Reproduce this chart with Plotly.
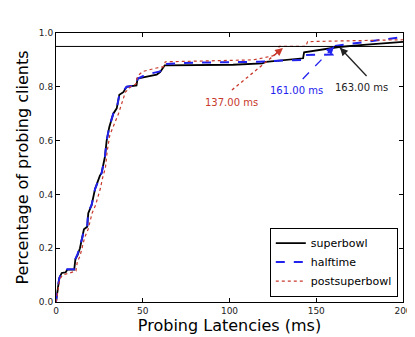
import plotly.graph_objects as go

# CDF of probing latencies
superbowl_ms = [0, 0.8, 1.9, 3.3, 5.5, 6.5, 10.5, 11.2, 12.5, 13.8, 15.2, 16.1, 18.0, 18.6, 20.5,
                22.5, 25.3, 26.3, 28.2, 29.2, 30.7, 33.0, 35.0, 36.5, 38.8, 40.7, 46.4, 47.0, 50.3,
                58.0, 60.0, 62.7, 102, 119, 121, 142.4, 143, 150, 159.7, 163, 179, 200]
superbowl_cdf = [0, 0.046, 0.089, 0.108, 0.110, 0.12, 0.12, 0.16, 0.175, 0.20, 0.24, 0.27, 0.28, 0.33,
                 0.36, 0.42, 0.47, 0.48, 0.54, 0.60, 0.65, 0.70, 0.72, 0.77, 0.78, 0.80, 0.805, 0.83,
                 0.835, 0.845, 0.855, 0.88, 0.882, 0.887, 0.893, 0.906, 0.928, 0.935, 0.943, 0.948,
                 0.957, 0.967]

halftime_ms = [0, 0.8, 2.0, 3.5, 5.5, 6.5, 10.5, 11.2, 12.5, 13.8, 15.2, 16.1, 18.0, 18.5, 20.5,
               22.5, 25.3, 26.3, 28.2, 29.2, 30.7, 33.0, 35.0, 36.5, 38.8, 40.7, 46.4, 47.0, 50.3,
               55, 60.0, 62.7, 80, 117, 131, 142.4, 143, 159.7, 160.5, 170, 185, 200]
halftime_cdf = [0, 0.05, 0.09, 0.11, 0.112, 0.122, 0.122, 0.16, 0.18, 0.205, 0.24, 0.27, 0.28, 0.335,
                0.36, 0.42, 0.47, 0.48, 0.54, 0.60, 0.65, 0.70, 0.72, 0.77, 0.785, 0.80, 0.805, 0.83,
                0.84, 0.85, 0.857, 0.885, 0.89, 0.893, 0.898, 0.9, 0.918, 0.92, 0.952, 0.96, 0.975, 0.985]

post_ms = [0, 1, 2.2, 3.8, 6, 8, 11.5, 12.3, 13.8, 15.0, 16.5, 18.5, 19.3, 20.8, 22.8, 25.5, 26.8,
           28.5, 29.5, 31, 33.5, 36, 38, 40, 43, 46, 47, 50, 58, 62, 63, 100, 113.6, 125, 127, 128.7,
           144, 145, 170, 200]
post_cdf = [0, 0.04, 0.085, 0.1, 0.105, 0.11, 0.115, 0.15, 0.17, 0.2, 0.24, 0.27, 0.29, 0.33, 0.36,
            0.42, 0.46, 0.5, 0.56, 0.62, 0.66, 0.7, 0.74, 0.78, 0.8, 0.81, 0.84, 0.857, 0.87, 0.875,
            0.893, 0.897, 0.9, 0.915, 0.925, 0.95, 0.95, 0.968, 0.97, 0.975]

RED = "#c8392b"
BLUE = "#2222ee"
FONT = "DejaVu Sans"

fig = go.Figure()
fig.add_trace(go.Scatter(x=superbowl_ms, y=superbowl_cdf, mode="lines", name="superbowl",
                         line=dict(color="black", width=1.8)))
fig.add_trace(go.Scatter(x=halftime_ms, y=halftime_cdf, mode="lines", name="halftime",
                         line=dict(color=BLUE, width=2, dash="dash")))
fig.add_trace(go.Scatter(x=post_ms, y=post_cdf, mode="lines", name="postsuperbowl",
                         line=dict(color=RED, width=1.2, dash="dot")))

# 95th percentile line
fig.add_shape(type="line", xref="paper", x0=0, x1=1, yref="y", y0=0.95, y1=0.95,
              line=dict(color="black", width=1))

# arrows: (tail, head, label position, text, colour, dash)
arrows = [
    ((101.4, 0.788), (130.8, 0.944), (100.9, 0.743), "137.00 ms", RED, "dot"),
    ((142.2, 0.829), (160.2, 0.949), (138.7, 0.788), "161.00 ms", BLUE, "dash"),
    ((179.0, 0.840), (163.7, 0.945), (176.2, 0.798), "163.00 ms", "#222222", "solid"),
]
for tail, head, lab, txt, col, dash in arrows:
    fig.add_shape(type="line", x0=tail[0], y0=tail[1], x1=head[0], y1=head[1],
                  line=dict(color=col, width=1.3, dash=dash))
    fig.add_annotation(x=head[0], y=head[1], text="", showarrow=True,
                       axref="x", ayref="y",
                       ax=head[0] - (head[0] - tail[0]) * 0.2,
                       ay=head[1] - (head[1] - tail[1]) * 0.2,
                       arrowhead=2, arrowsize=1.2, arrowwidth=1.3, arrowcolor=col)
    fig.add_annotation(x=lab[0], y=lab[1], text=txt, showarrow=False,
                       font=dict(family=FONT, size=10, color=col))

# the page body has an 8px margin, so the figure is a bit smaller than the window
fig.update_layout(
    width=407, height=329,
    margin=dict(l=48, r=12, t=25, b=35),
    plot_bgcolor="white", paper_bgcolor="white",
    font=dict(family=FONT, color="#222222"),
    legend=dict(x=0.985, y=0.02, xanchor="right", yanchor="bottom",
                bordercolor="black", borderwidth=1, bgcolor="white",
                font=dict(family=FONT, size=11, color="black"),
                itemwidth=30, tracegroupgap=0),
    showlegend=True,
)
fig.update_xaxes(range=[0, 200], tickvals=[0, 50, 100, 150, 200], showgrid=False, zeroline=False,
                 automargin=False,
                 showline=True, linecolor="black", linewidth=1, mirror="ticks",
                 ticks="inside", ticklen=4, tickcolor="black",
                 tickfont=dict(family=FONT, size=9, color="#222222"),
                 title=dict(text="Probing Latencies (ms)", standoff=4,
                            font=dict(family=FONT, size=16, color="black")))
fig.update_yaxes(range=[0, 1], tickvals=[0, 0.2, 0.4, 0.6, 0.8, 1.0], tickformat=".1f",
                 showgrid=False, zeroline=False, automargin=False,
                 showline=True, linecolor="black", linewidth=1, mirror="ticks",
                 ticks="inside", ticklen=4, tickcolor="black",
                 tickfont=dict(family=FONT, size=9, color="#222222"),
                 title=dict(text="Percentage of probing clients", standoff=6,
                            font=dict(family=FONT, size=16, color="black")))

fig.write_html("out.html")
